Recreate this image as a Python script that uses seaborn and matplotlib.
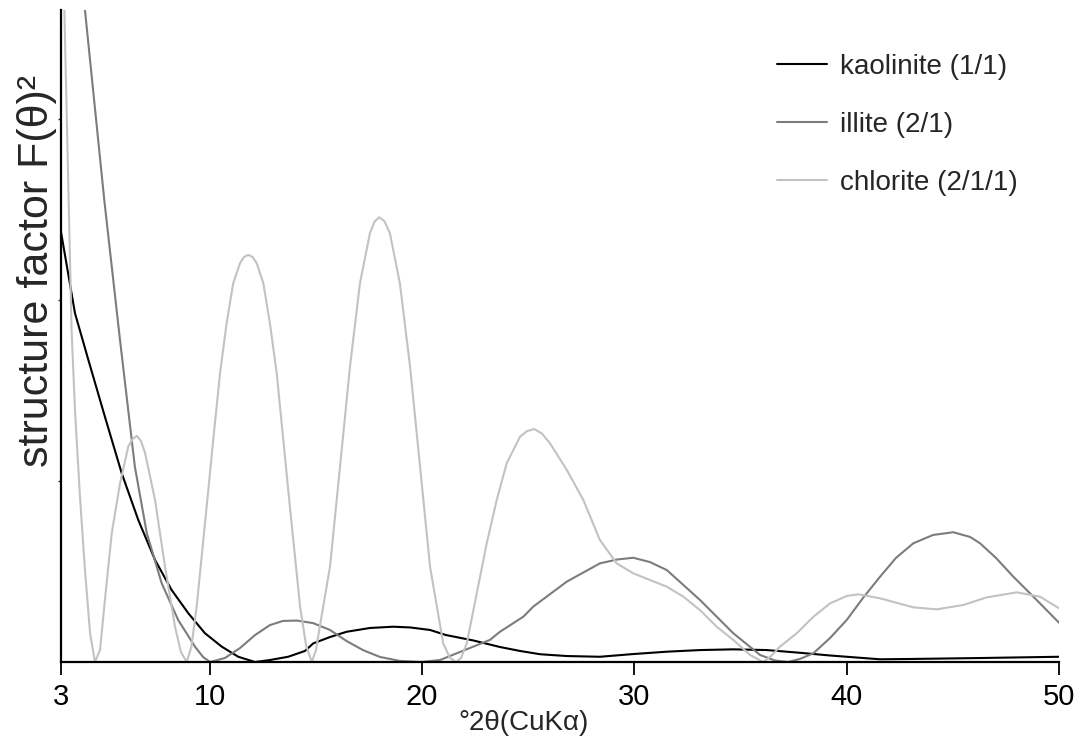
import numpy as np
import pandas as pd
import matplotlib
matplotlib.use("Agg")
import matplotlib.pyplot as plt
import seaborn as sns
from matplotlib import font_manager

# values (x in degrees 2theta, y in tick units)
kaol_x = [3.0, 3.66, 4.29, 5.07, 5.86, 6.64, 7.43, 8.21, 9.00, 9.78, 10.57, 11.35, 12.14,
          12.84, 13.70, 14.49, 14.88, 15.67, 16.45, 17.55, 18.65, 19.44, 20.38, 21.13, 22.42,
          23.67, 24.62, 25.56, 26.82, 28.38, 29.95, 31.53, 33.09, 34.66, 36.23, 37.80, 39.22,
          40.00, 41.57, 43.14, 46.28, 50.0]
kaol_y = [2.377, 1.927, 1.669, 1.355, 1.043, 0.785, 0.564, 0.398, 0.269, 0.159, 0.085, 0.029, 0.0,
          0.011, 0.029, 0.061, 0.103, 0.138, 0.167, 0.188, 0.195, 0.191, 0.177, 0.149, 0.119,
          0.083, 0.061, 0.043, 0.033, 0.029, 0.044, 0.057, 0.066, 0.070, 0.066, 0.051, 0.036,
          0.029, 0.015, 0.017, 0.022, 0.029]

illite_x = [3.0, 4.13, 5.04, 5.78, 6.48, 7.04, 7.74, 8.52, 9.31, 9.69, 10.02, 10.72, 11.43,
            12.14, 12.84, 13.46, 14.10, 14.87, 15.67, 16.45, 17.22, 18.02, 18.96, 19.95, 20.85,
            23.20, 23.67, 24.77, 25.24, 26.82, 28.38, 29.17, 29.95, 30.74, 31.53, 33.09, 34.66,
            35.92, 36.63, 37.24, 37.80, 38.43, 39.22, 40.00, 40.77, 41.57, 42.32, 43.14, 44.07,
            45.02, 45.81, 46.28, 47.03, 47.85, 48.79, 50.0]
illite_y = [5.0, 3.602, 2.552, 1.779, 1.079, 0.713, 0.436, 0.232, 0.085, 0.028, 0.0, 0.022, 0.077,
            0.149, 0.204, 0.227, 0.229, 0.215, 0.177, 0.116, 0.066, 0.028, 0.006, 0.0, 0.011,
            0.122, 0.167, 0.250, 0.306, 0.444, 0.545, 0.566, 0.576, 0.552, 0.508, 0.343, 0.159,
            0.039, 0.008, 0.0, 0.017, 0.048, 0.133, 0.232, 0.354, 0.471, 0.575, 0.656, 0.702,
            0.717, 0.691, 0.656, 0.575, 0.471, 0.361, 0.217]

chlor_x = [3.0, 3.16, 3.33, 3.50, 3.66, 3.89, 4.13, 4.37, 4.60, 4.84, 5.07, 5.39, 5.78, 6.17,
           6.37, 6.57, 6.77, 6.96, 7.43, 7.90, 8.37, 8.65, 8.92, 9.14, 9.39, 9.86, 10.17, 10.49,
           10.80, 11.11, 11.43, 11.62, 11.82, 12.02, 12.22, 12.53, 12.84, 13.16, 13.47, 13.78,
           14.26, 14.54, 14.81, 15.01, 15.20, 15.67, 16.14, 16.61, 17.08, 17.55, 17.77, 17.99,
           18.24, 18.49, 18.96, 19.44, 19.91, 20.38, 21.00, 21.32, 21.61, 21.84, 22.11, 22.58,
           23.05, 23.52, 23.99, 24.62, 24.95, 25.29, 25.65, 26.03, 26.82, 27.60, 28.38, 29.17,
           29.95, 30.74, 31.53, 32.31, 33.09, 33.88, 34.66, 35.45, 36.07, 36.44, 36.86, 37.65,
           38.43, 39.22, 40.00, 40.55, 41.57, 43.14, 44.24, 45.49, 46.59, 48.01, 49.10, 50.0]
chlor_y = [4.4, 3.60, 2.718, 1.834, 1.392, 0.923, 0.508, 0.160, 0.0, 0.066, 0.343, 0.711, 0.987,
           1.190, 1.232, 1.249, 1.221, 1.155, 0.895, 0.527, 0.195, 0.055, 0.0, 0.083, 0.306,
           0.858, 1.227, 1.595, 1.871, 2.092, 2.203, 2.238, 2.249, 2.238, 2.203, 2.092, 1.871,
           1.595, 1.227, 0.858, 0.306, 0.094, 0.0, 0.066, 0.204, 0.527, 1.079, 1.631, 2.092,
           2.369, 2.434, 2.457, 2.434, 2.369, 2.092, 1.631, 1.079, 0.527, 0.103, 0.022, 0.0,
           0.022, 0.103, 0.380, 0.656, 0.895, 1.098, 1.245, 1.276, 1.287, 1.262, 1.208, 1.061,
           0.895, 0.674, 0.545, 0.490, 0.453, 0.416, 0.361, 0.287, 0.195, 0.122, 0.039, 0.0,
           0.033, 0.085, 0.159, 0.250, 0.324, 0.365, 0.374, 0.352, 0.302, 0.291, 0.315, 0.357,
           0.385, 0.361, 0.297]

labels = ['kaolinite (1/1)', 'illite (2/1)', 'chlorite (2/1/1)']
colors = ['#000000', '#7c7c7c', '#c2c2c2']
x_ticks = [3, 10, 20, 30, 40, 50]

sns.set_style('ticks')
plt.rcParams['font.family'] = ['Liberation Sans', 'DejaVu Sans']
names = {f.name for f in font_manager.fontManager.ttflist}
narrow = 'Liberation Sans Narrow' if 'Liberation Sans Narrow' in names else 'Liberation Sans'

fig = plt.figure(figsize=(10.79, 7.42), dpi=100)
ax = fig.add_axes([0.0565, 0.1078, 0.925, 0.8787])

for xs, ys, lab, col in zip([kaol_x, illite_x, chlor_x], [kaol_y, illite_y, chlor_y], labels, colors):
    d = pd.DataFrame({'x': xs, 'y': ys})
    sns.lineplot(data=d, x='x', y='y', ax=ax, color=col, linewidth=1.5, label=lab, sort=False)

ax.set_xlim(3, 50)
ax.set_ylim(0, 3.602)
ax.set_xticks(x_ticks)
ax.set_xticklabels([str(t) for t in x_ticks], family=[narrow, 'DejaVu Sans'], fontsize=21)
ax.set_yticks([1, 2, 3])
ax.set_yticklabels([])
ax.tick_params(axis='x', direction='out', length=9, width=1.3, pad=6, colors='black')
ax.tick_params(axis='y', direction='out', length=2, width=1.0)
for s in ['top', 'right']:
    ax.spines[s].set_visible(False)
for s in ['left', 'bottom']:
    ax.spines[s].set_linewidth(1.6)
    ax.spines[s].set_color('black')

ax.set_xlabel('°2θ(CuKα)', family=[narrow, 'DejaVu Sans'], fontsize=20)
ax.xaxis.set_label_coords(0.463, -0.074)
ax.set_ylabel('structure factor F(θ)²', fontsize=31)
ax.yaxis.set_label_coords(-0.004, 0.60)

ax.legend(loc='upper left', bbox_to_anchor=(0.717, 0.933), frameon=False, fontsize=20,
          borderpad=0, borderaxespad=0, handlelength=1.8, handletextpad=0.47, labelspacing=1.15)

fig.savefig('out.png', dpi=100)
